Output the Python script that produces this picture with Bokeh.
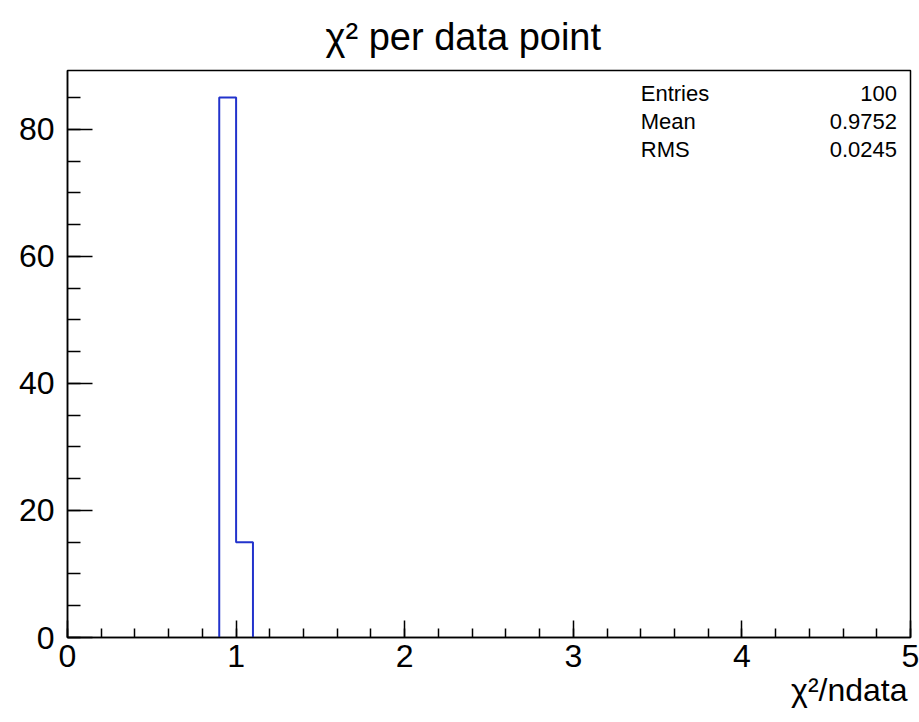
from bokeh.plotting import figure
from bokeh.models import Range1d, SingleIntervalTicker, Label, Title
from bokeh.embed import file_html
from bokeh.resources import INLINE

# ---- data ----
bin_low = 0.0
bin_width = 0.1
counts = [0] * 9 + [85, 15] + [0] * 39   # 50 bins from 0 to 5
stat_names = ["Entries", "Mean", "RMS"]
stat_values = ["100", "0.9752", "0.0245"]
title_text = "\u03c7\u00b2 per data point"
xlabel_text = "\u03c7\u00b2/ndata"

FONT = "Liberation Sans"
ymax = max(counts) * 1.05

p = figure(width=919, height=722, output_backend="svg", toolbar_location=None,
           x_range=Range1d(0, 5), y_range=Range1d(0, ymax),
           min_border_left=67, min_border_right=9, min_border_top=70, min_border_bottom=85)
p.background_fill_color = "white"
p.border_fill_color = "white"
p.grid.visible = False
p.outline_line_color = "black"
p.outline_line_width = 1.5

# title
p.title.text = title_text
p.title.align = "left"
p.title.offset = 258
p.title.text_font = FONT
p.title.text_font_size = "38px"
p.title.text_font_style = "normal"
p.title.text_color = "black"
p.title.standoff = 26

# histogram step outline built from the counts
nz = [i for i, c in enumerate(counts) if c > 0]
xs, ys = [], []
first, last = nz[0], nz[-1]
xs.append(bin_low + first * bin_width); ys.append(0)
for i in range(first, last + 1):
    x0 = bin_low + i * bin_width
    x1 = x0 + bin_width
    xs += [x0, x1]; ys += [counts[i], counts[i]]
xs.append(bin_low + (last + 1) * bin_width); ys.append(0)
p.line(xs, ys, line_color="#2233cc", line_width=2)

# axes
xa = p.xaxis[0]
xa.ticker = SingleIntervalTicker(interval=1, num_minor_ticks=5)
xa.major_tick_in = 17; xa.major_tick_out = 0
xa.minor_tick_in = 9; xa.minor_tick_out = 0
ya = p.yaxis[0]
ya.ticker = SingleIntervalTicker(interval=20, num_minor_ticks=4)
ya.major_tick_in = 25; ya.major_tick_out = 0
ya.minor_tick_in = 13; ya.minor_tick_out = 0
for ax in (xa, ya):
    ax.axis_line_width = 1.5
    ax.major_tick_line_width = 1.5
    ax.minor_tick_line_width = 1.5
    ax.axis_line_color = "black"
    ax.major_tick_line_color = "black"
    ax.minor_tick_line_color = "black"
    ax.major_label_text_font = FONT
    ax.major_label_text_font_size = "32px"
    ax.major_label_text_color = "black"
xa.major_label_standoff = 7
ya.major_label_standoff = 13

# x axis title (right aligned, below labels)
xt = Title(text=xlabel_text, align="right", text_font=FONT, text_font_size="32px",
           text_font_style="normal", text_color="black", offset=3, standoff=0)
p.add_layout(xt, "below")

# stats box text
ys_stat = [85.6, 81.2, 76.8]
for name, val, yy in zip(stat_names, stat_values, ys_stat):
    p.add_layout(Label(x=3.40, y=yy, text=name, text_align="left", text_baseline="middle",
                       text_font=FONT, text_font_size="22px", text_color="black"))
    p.add_layout(Label(x=4.92, y=yy, text=val, text_align="right", text_baseline="middle",
                       text_font=FONT, text_font_size="22px", text_color="black"))

open("out.html", "w").write(file_html(p, INLINE))
